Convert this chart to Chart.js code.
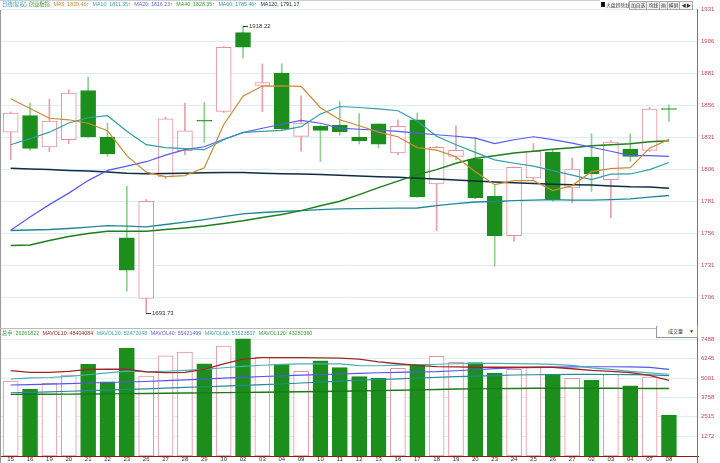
<!DOCTYPE html>
<html>
<head>
<meta charset="utf-8">
<script src="https://cdn.jsdelivr.net/npm/chart.js@4.4.1/dist/chart.umd.min.js"></script>
<style>
  body { margin: 0; background: #fff; width: 720px; height: 463px; overflow: hidden; position: relative;
         font-family: "Liberation Sans", "Noto Sans CJK SC", sans-serif; }
  canvas { position: absolute; left: 0; }
  #kline { top: 0; }
  #vol { top: 329px; }
  .hdr { position: absolute; left: 2px; font-size: 5.3px; line-height: 9px; white-space: nowrap; }
  .hdr span { margin-right: 2px; }
  .up { color: #e02020; margin-left: -2px; }
  .btns { position: absolute; top: 1px; left: 601px; font-size: 4.8px; line-height: 7px; white-space: nowrap; }
  .btns span { display: inline-block; border: 1px solid #aaa; padding: 0 1px; margin-right: -1px; color: #333; background: #f4f4f4; }
  .line { position: absolute; }
</style>
</head>
<body>
<canvas id="kline" width="720" height="333"></canvas>
<canvas id="vol" width="720" height="134"></canvas>

<div class="line" style="left:0;top:0;width:600px;height:1px;background:#cfcfcf"></div>
<div class="line" style="left:0;top:10px;width:1px;height:453px;background:#999"></div>
<div class="line" style="left:0;top:328px;width:697px;height:1px;background:#bbb"></div>
<div class="line" style="left:697px;top:9px;width:1px;height:454px;background:#777"></div>

<div class="hdr" style="top:0">
  <span style="color:#3a9ec4">日线(复权)</span><span style="color:#3a9a3a">创业板指</span>
  <span style="color:#d08a30">MA5: 1829.46</span><span class="up">↑</span>
  <span style="color:#3aa6b0">MA10: 1811.35</span><span class="up">↑</span>
  <span style="color:#6262f0">MA20: 1816.23</span><span class="up">↑</span>
  <span style="color:#3a9a3a">MA40: 1828.35</span><span class="up">↑</span>
  <span style="color:#3a9aaa">MA60: 1785.46</span><span class="up">↑</span>
  <span style="color:#203040">MA120: 1791.17</span>
</div>
<div class="btns"><span style="border:none;background:none;padding:0"><b style="display:inline-block;width:4px;height:5px;background:#111;margin-right:1px"></b>大盘趋势线</span><span>加自选</span><span>均线</span><span>画</span><span>横屏</span><span>◀▶</span></div>

<div class="hdr" style="top:329px">
  <span style="color:#3a9a3a">总手: 26261822</span>
  <span style="color:#a02828">MAVOL10: 48404084</span>
  <span style="color:#3aa6b0">MAVOL20: 52472048</span>
  <span style="color:#6262f0">MAVOL40: 55421499</span>
  <span style="color:#3a9aaa">MAVOL60: 51523507</span>
  <span style="color:#3a9a3a">MAVOL120: 43280360</span>
</div>
<div style="position:absolute;left:656px;top:326px;width:40px;height:11px;border:1px solid #999;border-top:none;background:#fff;font-size:5px;line-height:11px;color:#333">
  <span style="margin-left:11px">成交量</span><span style="position:absolute;right:3px;font-size:5px">▼</span>
</div>

<script>
// trading days
const dates = ['15','16','19','20','21','22','23','26','27','28','29','30','02','03','04','09','10','11','12','13',
               '16','17','18','19','20','23','24','25','26','27','02','03','04','07','08'];

const opens  = [1835.2,1848.0,1823.5,1829.2,1867.7,1831.3,1752.4,1705.0,1800.1,1820.6,1844.4,1851.3,1913.0,1871.6,1881.3,1831.8,1839.6,1840.7,1831.3,1841.7,
                1818.8,1844.8,1794.6,1816.2,1814.1,1784.9,1754.2,1799.3,1819.6,1791.5,1815.7,1798.0,1821.9,1820.8,1853.5];
const highs  = [1851.0,1857.9,1861.0,1868.3,1878.2,1842.2,1792.7,1782.3,1846.9,1857.9,1858.3,1902.0,1918.22,1888.6,1888.6,1863.6,1840.5,1859.1,1849.6,1841.7,
                1844.8,1850.1,1824.0,1840.1,1831.0,1794.0,1808.0,1826.1,1821.0,1814.9,1833.9,1828.5,1833.9,1854.8,1856.5];
const lows   = [1813.6,1821.0,1819.8,1826.1,1831.0,1816.2,1710.7,1693.73,1798.5,1817.5,1827.1,1850.5,1893.0,1851.3,1837.0,1820.1,1812.3,1833.0,1826.0,1822.7,
                1817.5,1784.0,1758.1,1813.6,1783.0,1730.2,1749.8,1798.0,1781.0,1779.8,1788.8,1768.0,1812.3,1820.0,1843.5];
const closes = [1850.1,1822.4,1843.8,1865.7,1831.3,1818.0,1727.1,1781.0,1845.6,1836.2,1843.8,1901.6,1901.6,1874.0,1837.8,1842.2,1836.5,1835.5,1828.2,1825.8,
                1839.6,1784.4,1823.2,1820.8,1783.7,1754.2,1807.6,1820.1,1782.3,1806.3,1802.6,1827.4,1816.2,1853.2,1853.0];

const ma5   = [1861.2,1853.6,1846.0,1844.8,1842.1,1836.2,1816.7,1803.8,1800.3,1801.1,1807.3,1840.9,1863.2,1871.2,1871.4,1871.0,1854.2,1844.8,1840.1,1835.1,
               1831.5,1823.0,1821.0,1815.9,1804.2,1794.0,1797.2,1797.2,1789.4,1793.3,1804.2,1806.5,1807.3,1822.6,1829.5];
const ma10  = [1825.3,1830.0,1835.1,1842.3,1846.4,1848.0,1835.8,1825.3,1823.0,1822.2,1821.4,1829.2,1834.9,1835.8,1836.5,1839.4,1849.3,1855.2,1854.4,1853.4,
               1851.9,1843.7,1831.9,1825.3,1819.3,1813.4,1810.8,1808.5,1805.0,1801.5,1798.0,1802.2,1802.4,1805.8,1811.4];
const ma20  = [1758.3,1768.7,1778.4,1787.4,1797.2,1805.2,1808.5,1812.0,1817.1,1821.4,1823.7,1829.6,1834.7,1838.2,1841.3,1844.3,1842.1,1838.3,1837.4,1836.6,
               1835.7,1834.3,1833.1,1831.9,1830.4,1826.1,1829.2,1831.5,1829.2,1826.5,1823.3,1820.2,1816.7,1816.7,1816.2];
const ma40  = [1746.4,1746.8,1750.3,1753.4,1755.8,1757.6,1757.6,1757.6,1758.9,1760.1,1761.6,1763.6,1765.7,1768.3,1770.6,1773.7,1777.6,1781.0,1786.2,1791.7,
               1796.8,1801.9,1805.8,1810.8,1814.7,1816.7,1818.8,1820.2,1821.8,1823.0,1824.5,1825.3,1826.1,1827.6,1828.4];
const ma60  = [1758.1,1758.5,1758.9,1759.7,1760.8,1762.0,1761.6,1761.0,1762.8,1764.7,1766.7,1769.0,1771.2,1772.2,1773.0,1773.7,1774.5,1775.1,1775.3,1775.5,
               1775.7,1775.8,1777.6,1779.2,1780.4,1780.8,1781.5,1781.9,1782.3,1781.9,1781.9,1782.3,1782.9,1784.3,1785.5];
const ma120 = [1806.8,1806.3,1805.8,1805.1,1804.7,1804.0,1803.0,1802.6,1802.8,1803.0,1803.3,1803.5,1803.6,1803.0,1802.6,1802.3,1801.9,1801.3,1800.9,1800.3,
               1799.8,1799.1,1798.4,1797.6,1796.8,1796.2,1795.6,1795.0,1794.4,1794.0,1793.7,1793.0,1792.3,1792.1,1791.2];

// volume, in 10k lots
const vols = [4812,4297,4664,5199,5888,4767,6919,5134,6423,6661,5907,7048,7518,6339,5888,5437,6101,5669,5089,4986,
              5630,5888,6403,6017,5991,5308,5566,5669,5244,4986,4857,5244,4509,5070,2626];
const mavol10  = [5476,5360,5360,5424,5553,5566,5566,5392,5347,5360,5553,5907,6210,6313,6313,6313,6294,6275,6210,6036,
                  5920,5811,5733,5714,5695,5695,5695,5695,5695,5598,5489,5424,5347,5167,4860];
const mavol20  = [4941,5018,5038,5115,5212,5328,5443,5411,5437,5489,5553,5663,5746,5824,5875,5907,5907,5907,5798,5791,
                  5830,5856,5888,5920,5940,5952,5927,5907,5875,5811,5650,5553,5424,5328,5247];
const mavol40  = [4555,4574,4606,4645,4683,4716,4748,4780,4832,4883,4935,4993,5051,5102,5147,5186,5225,5263,5308,5341,
                  5360,5392,5411,5469,5534,5611,5650,5682,5701,5714,5727,5727,5714,5682,5560];
const mavol60  = [4058,4084,4116,4155,4194,4232,4271,4310,4361,4406,4445,4490,4535,4580,4619,4683,4735,4799,4864,4909,
                  4954,5005,5051,5089,5121,5160,5199,5212,5225,5237,5244,5231,5218,5205,5160];
const mavol120 = [3955,3960,3965,3970,3980,3988,4000,4012,4025,4038,4052,4065,4080,4095,4110,4123,4138,4152,4168,4195,
                  4220,4245,4270,4297,4310,4322,4335,4348,4355,4355,4350,4345,4340,4335,4328];

const priceTicks = [1706,1731,1756,1781,1806,1831,1856,1881,1906,1931];
const volTicks = [1272,2515,3758,5001,6245,7488];

// one spare slot on the right like the original terminal
const labels = dates.concat(['']);
const upColor = '#e8909a', downColor = '#1b8e1b';
const isUp = i => closes[i] >= opens[i];
const tickColor = '#cc4455';
const gridColor = '#dcf0f3';

const line = (label, data, color, width) => ({
  type: 'line', label, data, borderColor: color, borderWidth: width || 1.2,
  pointRadius: 0, tension: 0, fill: false, order: 0
});

// high/low labels
const hiIdx = highs.indexOf(Math.max(...highs));
const loIdx = lows.indexOf(Math.min(...lows));
const marks = [{ index: hiIdx, value: highs[hiIdx] }, { index: loIdx, value: lows[loIdx] }];

const markPlugin = {
  id: 'marks',
  afterDatasetsDraw(chart) {
    const { ctx, scales: { x, y } } = chart;
    ctx.save();
    ctx.font = '6px "Liberation Sans"';
    ctx.fillStyle = '#333';
    ctx.strokeStyle = '#333';
    ctx.lineWidth = 1;
    ctx.textBaseline = 'middle';
    marks.forEach(m => {
      const px = Math.round(x.getPixelForValue(m.index)), py = Math.round(y.getPixelForValue(m.value));
      ctx.beginPath(); ctx.moveTo(px, py + 0.5); ctx.lineTo(px + 5, py + 0.5); ctx.stroke();
      ctx.fillText(m.value.toFixed(2), px + 6, py + 0.5);
    });
    ctx.restore();
  }
};

const plainTick = v => String(v);

const kline = new Chart(document.getElementById('kline'), {
  type: 'bar',
  data: {
    labels: labels,
    datasets: [
      line('MA5', ma5, '#cc8a34'),
      line('MA10', ma10, '#2f9ea8'),
      line('MA20', ma20, '#5a5af2'),
      line('MA40', ma40, '#1f7f1f', 1.5),
      line('MA60', ma60, '#1f8898', 1.4),
      line('MA120', ma120, '#0f2c42', 1.5),
      {
        label: 'body',
        data: opens.map((o, i) => [o, closes[i]]),
        backgroundColor: c => isUp(c.dataIndex) ? '#ffffff' : downColor,
        borderColor: c => isUp(c.dataIndex) ? upColor : downColor,
        borderWidth: 1,
        borderSkipped: false,
        barThickness: 15,
        grouped: false,
        order: 1
      },
      {
        label: 'wick',
        data: lows.map((l, i) => [l, highs[i]]),
        backgroundColor: c => isUp(c.dataIndex) ? '#e8a0a6' : '#8fd08f',
        borderWidth: 0,
        barThickness: 1,
        grouped: false,
        order: 2
      }
    ]
  },
  options: {
    responsive: false,
    animation: false,
    layout: { padding: { left: 1, top: 9, bottom: 6, right: 0 } },
    plugins: { legend: { display: false }, tooltip: { enabled: false } },
    scales: {
      x: { display: false, offset: true },
      y: {
        position: 'right',
        min: 1683.1,
        max: 1931.5,
        afterBuildTicks: s => { s.ticks = priceTicks.map(v => ({ value: v })); },
        afterFit: s => { s.width = 22; },
        ticks: { color: tickColor, font: { size: 6, family: 'Liberation Sans' }, padding: 3, callback: plainTick },
        grid: { color: gridColor, drawTicks: false },
        border: { display: false }
      }
    }
  },
  plugins: [markPlugin]
});

const volume = new Chart(document.getElementById('vol'), {
  type: 'bar',
  data: {
    labels: labels,
    datasets: [
      line('MAVOL10', mavol10, '#a02626', 1.3),
      line('MAVOL20', mavol20, '#46b0b8'),
      line('MAVOL40', mavol40, '#5454f2'),
      line('MAVOL60', mavol60, '#228c9a'),
      line('MAVOL120', mavol120, '#1a7a1a', 1.4),
      {
        label: 'vol',
        data: vols,
        backgroundColor: c => isUp(c.dataIndex) ? '#ffffff' : downColor,
        borderColor: c => isUp(c.dataIndex) ? upColor : downColor,
        borderWidth: 1,
        borderSkipped: false,
        barThickness: 15,
        order: 1
      }
    ]
  },
  options: {
    responsive: false,
    animation: false,
    layout: { padding: { left: 1, top: 7, bottom: 0, right: 0 } },
    plugins: { legend: { display: false }, tooltip: { enabled: false } },
    scales: {
      x: {
        offset: true,
        afterFit: s => { s.height = 7; },
        ticks: { color: '#333', font: { size: 6, family: 'Liberation Sans' }, padding: 0, autoSkip: false, maxRotation: 0 },
        grid: { display: true, drawOnChartArea: false, drawTicks: false },
        border: { display: true, color: '#8b1e1e', width: 1 }
      },
      y: {
        position: 'right',
        min: 0,
        max: 7700,
        afterBuildTicks: s => { s.ticks = volTicks.map(v => ({ value: v })); },
        afterFit: s => { s.width = 22; },
        ticks: { color: tickColor, font: { size: 6, family: 'Liberation Sans' }, padding: 3, callback: plainTick },
        grid: { color: gridColor, drawTicks: false },
        border: { display: false }
      }
    }
  }
});
</script>
</body>
</html>
